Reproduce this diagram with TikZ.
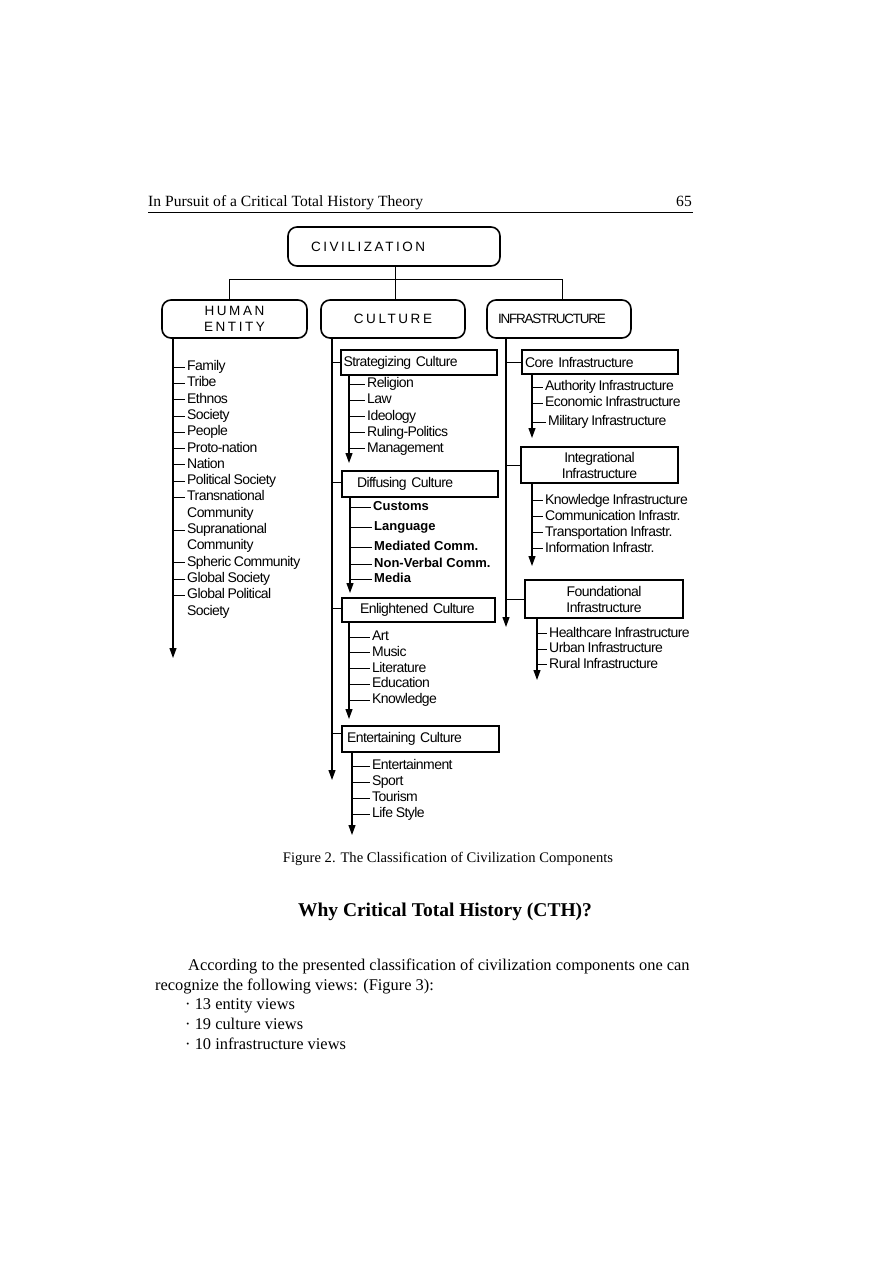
\documentclass[tikz,border=0pt]{standalone}
\usepackage{fontspec}
\setmainfont{Liberation Serif}
\newfontfamily\itemsans[LetterSpace=-4,WordSpace=0.8]{Liberation Sans}
\newfontfamily\plainsans{Liberation Sans}
\newfontfamily\widesans[LetterSpace=19]{Liberation Sans}
\newfontfamily\narrowsans[LetterSpace=-9]{Liberation Sans}
\usetikzlibrary{arrows.meta}

\newcommand\itemfont{\itemsans\fontsize{14}{16}\selectfont}
\newcommand\bolditemfont{\plainsans\bfseries\fontsize{13}{15}\selectfont}
\newcommand\widefont{\widesans\fontsize{13.5}{15.5}\selectfont}
\newcommand\narrowfont{\narrowsans\fontsize{13.5}{15}\selectfont}
\newcommand\headfont{\fontsize{15.6}{18}\selectfont}
\newcommand\bodyfont{\fontsize{16.4}{20}\selectfont}
\newcommand\capfont{\fontsize{14.6}{17}\selectfont}
\newcommand\headingfont{\bfseries\fontsize{19.5}{23}\selectfont}

\begin{document}
\begin{tikzpicture}[
  x=1pt,y=-1pt,
  topbox/.style={draw,line width=1.6pt,rounded corners=9pt,minimum height=38pt,inner ysep=0pt,align=center,font=\widefont},
  catbox/.style={draw,line width=1.8pt,inner ysep=0pt,align=left,font=\itemfont},
  item/.style={anchor=west,inner xsep=2pt,inner ysep=0pt,text height=10pt,text depth=3pt,font=\itemfont},
  bolditem/.style={item,font=\bolditemfont},
  trunk/.style={line width=0.9pt},
  branch/.style={line width=1.1pt,-{Triangle[length=10pt,width=7pt]}},
  tick/.style={line width=0.8pt},
  serif/.style={inner sep=0pt,anchor=base west},
]

% page
\useasboundingbox (0,0) rectangle (893,1263);
\fill[white] (0,0) rectangle (893,1263);

% running head
\node[serif,font=\headfont] (head) at (148,206) {In Pursuit of a Critical Total History Theory};
\node[serif,anchor=base east,font=\headfont] (page) at (692,206) {65};
\coordinate (rule_l) at (148,212);
\coordinate (rule_r) at (693,212);
\draw[line width=0.8pt] (rule_l) -- (rule_r);

% top level
\node[topbox,text width=166pt,inner xsep=23pt,align=left,minimum height=39pt] (civ) at (394,246.5) {CIVILIZATION};
\node[topbox,minimum width=145pt] (he) at (234.5,319) {HUMAN\\ENTITY};
\node[topbox,minimum width=144pt] (cu) at (393,319) {CULTURE};
\node[topbox,text width=122pt,inner xsep=11pt,align=left,font=\narrowfont] (inf) at (559,319) {INFRASTRUCTURE};

\coordinate (hub) at (395,279);
\draw[trunk] (civ.south -| hub) -- (hub);
\draw[trunk] (hub) -| ([xshift=-5.5pt]he.north);
\draw[trunk] (hub) -| ([xshift=3pt]inf.north);
\draw[trunk] (hub) -- (hub |- cu.north);

% Human entity
\coordinate (he_end) at (173,658);
\draw[branch] (he_end |- he.south) -- (he_end);
\node[item] (fam) at (185,367) {Family};
\node[item] (tribe) at (185,383.3) {Tribe};
\node[item] (ethnos) at (185,399.6) {Ethnos};
\node[item] (soc) at (185,416) {Society};
\node[item] (people) at (185,432.2) {People};
\node[item] (proto) at (185,448.5) {Proto-nation};
\node[item] (nation) at (185,464.8) {Nation};
\node[item] (polsoc) at (185,481) {Political Society};
\node[item] (trans) at (185,497.4) {Transnational};
\node[item] (trans2) at (185,513.7) {Community};
\node[item] (supra) at (185,530) {Supranational};
\node[item] (supra2) at (185,546.3) {Community};
\node[item] (spher) at (185,562.6) {Spheric Community};
\node[item] (globsoc) at (185,579) {Global Society};
\node[item] (globpol) at (185,595.2) {Global Political};
\node[item] (globpol2) at (185,611.5) {Society};
\draw[tick] (he_end |- fam.west) -- (fam.west);
\draw[tick] (he_end |- tribe.west) -- (tribe.west);
\draw[tick] (he_end |- ethnos.west) -- (ethnos.west);
\draw[tick] (he_end |- soc.west) -- (soc.west);
\draw[tick] (he_end |- people.west) -- (people.west);
\draw[tick] (he_end |- proto.west) -- (proto.west);
\draw[tick] (he_end |- nation.west) -- (nation.west);
\draw[tick] (he_end |- polsoc.west) -- (polsoc.west);
\draw[tick] (he_end |- trans.west) -- (trans.west);
\draw[tick] (he_end |- supra.west) -- (supra.west);
\draw[tick] (he_end |- spher.west) -- (spher.west);
\draw[tick] (he_end |- globsoc.west) -- (globsoc.west);
\draw[tick] (he_end |- globpol.west) -- (globpol.west);

% Culture
\coordinate (cu_end) at (332,780);
\draw[branch] (cu_end |- cu.south) -- (cu_end);

\node[catbox,text width=151pt,inner xsep=2.5pt,minimum height=25pt] (strat) at (419,362.5) {Strategizing Culture};
\draw[tick] (cu_end |- strat.west) -- (strat.west);
\coordinate (strat_end) at (349,463);
\draw[branch] (strat_end |- strat.south) -- (strat_end);
\node[item] (relig) at (365,384) {Religion};
\node[item] (law) at (365,400) {Law};
\node[item] (ideol) at (365,416.5) {Ideology};
\node[item] (ruling) at (365,432.5) {Ruling-Politics};
\node[item] (manag) at (365,448.5) {Management};
\draw[tick] (strat_end |- relig.west) -- (relig.west);
\draw[tick] (strat_end |- law.west) -- (law.west);
\draw[tick] (strat_end |- ideol.west) -- (ideol.west);
\draw[tick] (strat_end |- ruling.west) -- (ruling.west);
\draw[tick] (strat_end |- manag.west) -- (manag.west);

\node[catbox,text width=126pt,inner xsep=15pt,minimum height=26pt] (diff) at (420,484) {Diffusing Culture};
\draw[tick] ([yshift=2pt]cu_end |- diff.west) -- ([yshift=2pt]diff.west);
\coordinate (diff_end) at (350,593);
\draw[branch] (diff_end |- diff.south) -- (diff_end);
\node[bolditem] (customs) at (371,507) {Customs};
\node[bolditem] (lang) at (372,527) {Language};
\node[bolditem] (mediat) at (372,547) {Mediated Comm.};
\node[bolditem] (nonverb) at (372,564) {Non-Verbal Comm.};
\node[bolditem] (media) at (372,579) {Media};
\draw[tick] (diff_end |- customs.west) -- (customs.west);
\draw[tick] (diff_end |- lang.west) -- (lang.west);
\draw[tick] (diff_end |- mediat.west) -- (mediat.west);
\draw[tick] (diff_end |- nonverb.west) -- (nonverb.west);
\draw[tick] (diff_end |- media.west) -- (media.west);

\node[catbox,text width=117pt,inner xsep=18pt,minimum height=24pt] (enl) at (418.5,610) {Enlightened Culture};
\draw[tick] ([yshift=2pt]cu_end |- enl.west) -- ([yshift=2pt]enl.west);
\coordinate (enl_end) at (349,719);
\draw[branch] (enl_end |- enl.south) -- (enl_end);
\node[item] (art) at (370,637) {Art};
\node[item] (music) at (370,652.8) {Music};
\node[item] (lit) at (370,668.5) {Literature};
\node[item] (educ) at (370,684.3) {Education};
\node[item] (knowl) at (370,700) {Knowledge};
\draw[tick] (enl_end |- art.west) -- (art.west);
\draw[tick] (enl_end |- music.west) -- (music.west);
\draw[tick] (enl_end |- lit.west) -- (lit.west);
\draw[tick] (enl_end |- educ.west) -- (educ.west);
\draw[tick] (enl_end |- knowl.west) -- (knowl.west);

\node[catbox,text width=147pt,inner xsep=5pt,minimum height=26pt] (ent) at (420.5,739) {Entertaining Culture};
\draw[tick] ([yshift=6pt]cu_end |- ent.west) -- ([yshift=6pt]ent.west);
\coordinate (ent_end) at (352,835);
\draw[branch] (ent_end |- ent.south) -- (ent_end);
\node[item] (entert) at (370,766) {Entertainment};
\node[item] (sport) at (370,782) {Sport};
\node[item] (tour) at (370,798) {Tourism};
\node[item] (life) at (370,814) {Life Style};
\draw[tick] (ent_end |- entert.west) -- (entert.west);
\draw[tick] (ent_end |- sport.west) -- (sport.west);
\draw[tick] (ent_end |- tour.west) -- (tour.west);
\draw[tick] (ent_end |- life.west) -- (life.west);

% Infrastructure
\coordinate (inf_end) at (506,627);
\draw[branch] (inf_end |- inf.south) -- (inf_end);

\node[catbox,text width=150pt,inner xsep=3pt,minimum height=24pt] (core) at (600,362) {Core Infrastructure};
\draw[tick] (inf_end |- core.west) -- (core.west);
\coordinate (core_end) at (532,438);
\draw[branch] (core_end |- core.south) -- (core_end);
\node[item] (auth) at (543,387) {Authority Infrastructure};
\node[item] (econ) at (543,403) {Economic Infrastructure};
\node[item] (milit) at (546,422) {Military Infrastructure};
\draw[tick] (core_end |- auth.west) -- (auth.west);
\draw[tick] (core_end |- econ.west) -- (econ.west);
\draw[tick] (core_end |- milit.west) -- (milit.west);

\node[catbox,align=center,minimum width=157pt,minimum height=36pt] (integ) at (599.5,465) {Integrational\\Infrastructure};
\draw[tick] (inf_end |- integ.west) -- (integ.west);
\coordinate (integ_end) at (532,566);
\draw[branch] (integ_end |- integ.south) -- (integ_end);
\node[item] (knowinf) at (543,500.5) {Knowledge Infrastructure};
\node[item] (comm) at (543,516.5) {Communication Infrastr.};
\node[item] (transp) at (543,532.5) {Transportation Infrastr.};
\node[item] (inform) at (543,548.5) {Information Infrastr.};
\draw[tick] (integ_end |- knowinf.west) -- (knowinf.west);
\draw[tick] (integ_end |- comm.west) -- (comm.west);
\draw[tick] (integ_end |- transp.west) -- (transp.west);
\draw[tick] (integ_end |- inform.west) -- (inform.west);

\node[catbox,align=center,minimum width=158pt,minimum height=38pt] (found) at (604,599) {Foundational\\Infrastructure};
\draw[tick] (inf_end |- found.west) -- (found.west);
\coordinate (found_end) at (537,680);
\draw[branch] (found_end |- found.south) -- (found_end);
\node[item] (health) at (547,633.5) {Healthcare Infrastructure};
\node[item] (urban) at (547,649) {Urban Infrastructure};
\node[item] (rural) at (547,664.5) {Rural Infrastructure};
\draw[tick] (found_end |- health.west) -- (health.west);
\draw[tick] (found_end |- urban.west) -- (urban.west);
\draw[tick] (found_end |- rural.west) -- (rural.west);

% caption and text below
\node[inner sep=0pt,font=\capfont] (cap) at (448,859) {Figure 2. The Classification of Civilization Components};
\node[inner sep=0pt,font=\headingfont] (why) at (445,912) {Why Critical Total History (CTH)?};
\node[serif,font=\bodyfont] (par1) at (188,970) {According to the presented classification of civilization components one can};
\node[serif,font=\bodyfont] (par2) at (155,990) {recognize the following views: (Figure 3):};
\node[serif,font=\bodyfont] (view1) at (185,1009) {·\ 13 entity views};
\node[serif,font=\bodyfont] (view2) at (185,1029) {·\ 19 culture views};
\node[serif,font=\bodyfont] (view3) at (185,1049) {·\ 10 infrastructure views};

\end{tikzpicture}
\end{document}
